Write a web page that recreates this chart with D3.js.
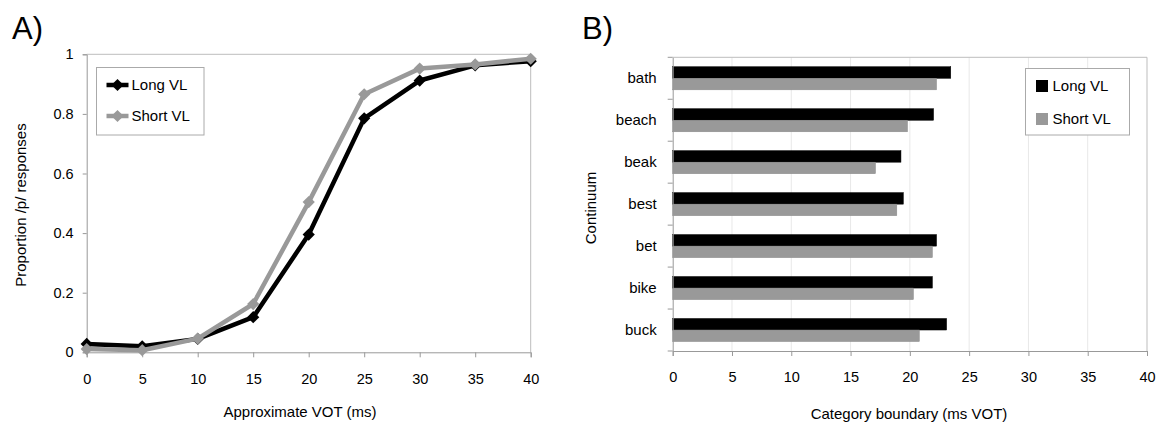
<!DOCTYPE html>
<html lang="en">
<head>
<meta charset="UTF-8">
<title>VOT category boundaries</title>
<script src="https://d3js.org/d3.v7.min.js"></script>
<style>
    body { margin: 0; background: #fff; }
    svg text { font-family: 'Liberation Sans', Arial, sans-serif; fill: #000; }
    .tick text { font-size: 14.5px; }
</style>
</head>
<body>
<svg width="1167" height="428"></svg>
<script>
    // panel A: identification curves
    const votSteps = [0, 5, 10, 15, 20, 25, 30, 35, 40];
    const longVL = [0.028, 0.02, 0.045, 0.118, 0.395, 0.785, 0.912, 0.963, 0.977];
    const shortVL = [0.011, 0.007, 0.046, 0.162, 0.504, 0.866, 0.952, 0.966, 0.985];
    const propTicks = [0, 0.2, 0.4, 0.6, 0.8, 1];

    // panel B: category boundaries
    const continua = ["bath", "beach", "beak", "best", "bet", "bike", "buck"];
    const boundaryLong = [23.45, 22.0, 19.25, 19.45, 22.25, 21.9, 23.1];
    const boundaryShort = [22.25, 19.8, 17.1, 18.9, 21.9, 20.3, 20.8];
    const boundaryTicks = [0, 5, 10, 15, 20, 25, 30, 35, 40];

    const seriesNames = ["Long VL", "Short VL"];
    const seriesColors = ["#000000", "#999999"];

    const svg = d3.select("svg");

    // ---------- A ----------
    const a = { left: 86.7, right: 530.7, top: 54.3, bottom: 352.3 };
    const xA = d3.scaleLinear().domain([0, 40]).range([a.left, a.right]);
    const yA = d3.scaleLinear().domain([0, 1]).range([a.bottom, a.top]);

    const gA = svg.append("g");

    gA.append("text").attr("x", 12).attr("y", 39).style("font-size", "31px").text("A)");

    // plot border (top and right)
    gA.append("path")
        .attr("d", `M${a.left},${a.top}H${a.right}V${a.bottom}`)
        .attr("fill", "none").attr("stroke", "#bdbdbd");

    const axA_x = gA.append("g")
        .attr("transform", `translate(0,${a.bottom})`)
        .call(d3.axisBottom(xA).tickValues(votSteps).tickSize(5).tickPadding(16));
    const axA_y = gA.append("g")
        .attr("transform", `translate(${a.left},0)`)
        .call(d3.axisLeft(yA).tickValues(propTicks).tickSize(4).tickPadding(9).tickFormat(d3.format("~g")));
    [axA_x, axA_y].forEach(ax => {
        ax.select(".domain").attr("stroke", "#999");
        ax.selectAll(".tick line").attr("stroke", "#999");
    });

    gA.append("text")
        .attr("x", 300).attr("y", 417)
        .attr("text-anchor", "middle").style("font-size", "15px")
        .text("Approximate VOT (ms)");
    gA.append("text")
        .attr("transform", "translate(26,205) rotate(-90)")
        .attr("text-anchor", "middle").style("font-size", "15px")
        .text("Proportion /p/ responses");

    const line = d3.line().x((d, i) => xA(votSteps[i])).y(d => yA(d));
    const diamond = d3.symbol().type(d3.symbolDiamond2).size(95);

    [longVL, shortVL].forEach((vals, s) => {
        const g = gA.append("g");
        g.append("path")
            .datum(vals)
            .attr("d", line)
            .attr("fill", "none")
            .attr("stroke", seriesColors[s])
            .attr("stroke-width", 4.5)
            .attr("stroke-linejoin", "round");
        g.selectAll("path.mk")
            .data(vals)
            .join("path")
            .attr("class", "mk")
            .attr("d", diamond)
            .attr("transform", (d, i) => `translate(${xA(votSteps[i])},${yA(d)})`)
            .attr("fill", seriesColors[s]);
    });

    // legend A
    const legA = gA.append("g");
    legA.append("rect")
        .attr("x", 96.5).attr("y", 67.5).attr("width", 107.5).attr("height", 67.5)
        .attr("fill", "#fff").attr("stroke", "#aaa");
    seriesNames.forEach((name, i) => {
        const cy = 85 + i * 31;
        legA.append("line")
            .attr("x1", 106.5).attr("x2", 128.5).attr("y1", cy).attr("y2", cy)
            .attr("stroke", seriesColors[i]).attr("stroke-width", 4.5);
        legA.append("path")
            .attr("d", diamond)
            .attr("transform", `translate(117.5,${cy})`)
            .attr("fill", seriesColors[i]);
        legA.append("text")
            .attr("x", 131.5).attr("y", cy).attr("dy", "0.36em")
            .style("font-size", "15px").text(name);
    });

    // ---------- B ----------
    const b = { left: 672.7, right: 1147, top: 57.3, bottom: 351 };
    const xB = d3.scaleLinear().domain([0, 40]).range([b.left, b.right]);
    const yB = d3.scaleBand().domain(continua).range([b.top, b.bottom])
        .paddingInner(0.45).paddingOuter(0.225);
    const ySub = d3.scaleBand().domain(seriesNames).range([0, yB.bandwidth()]);

    const gB = svg.append("g");

    gB.append("text").attr("x", 582).attr("y", 39).style("font-size", "31px").text("B)");

    // vertical gridlines
    gB.append("g")
        .selectAll("line")
        .data(boundaryTicks.filter(d => d > 0 && d < 40))
        .join("line")
        .attr("x1", d => xB(d)).attr("x2", d => xB(d))
        .attr("y1", b.top).attr("y2", b.bottom)
        .attr("stroke", "#e8e8e8");

    gB.append("path")
        .attr("d", `M${b.left},${b.top}H${b.right}V${b.bottom}`)
        .attr("fill", "none").attr("stroke", "#bdbdbd");

    const rows = continua.map((c, i) => ({ c, vals: [boundaryLong[i], boundaryShort[i]] }));
    gB.append("g")
        .selectAll("g")
        .data(rows)
        .join("g")
        .attr("transform", d => `translate(0,${yB(d.c)})`)
        .selectAll("rect")
        .data(d => d.vals.map((v, s) => ({ v, s })))
        .join("rect")
        .attr("x", xB(0))
        .attr("y", d => ySub(seriesNames[d.s]))
        .attr("width", d => xB(d.v) - xB(0))
        .attr("height", ySub.bandwidth())
        .attr("fill", d => seriesColors[d.s])
        .attr("stroke", d => d.s === 0 ? "#000" : "#8a8a8a")
        .attr("stroke-width", 0.5);

    const axB_x = gB.append("g")
        .attr("transform", `translate(0,${b.bottom})`)
        .call(d3.axisBottom(xB).tickValues(boundaryTicks).tickSize(5).tickPadding(16));
    const axB_y = gB.append("g")
        .attr("transform", `translate(${b.left},0)`)
        .call(d3.axisLeft(yB).tickSize(0).tickPadding(16));
    axB_y.selectAll(".tick text").style("font-size", "15px");
    [axB_x, axB_y].forEach(ax => {
        ax.select(".domain").attr("stroke", "#999");
        ax.selectAll(".tick line").attr("stroke", "#999");
    });
    // category separator ticks on the y axis
    gB.append("g")
        .selectAll("line")
        .data(d3.range(continua.length + 1))
        .join("line")
        .attr("x1", b.left - 5).attr("x2", b.left)
        .attr("y1", i => b.top + i * yB.step())
        .attr("y2", i => b.top + i * yB.step())
        .attr("stroke", "#999");

    gB.append("text")
        .attr("x", 909).attr("y", 419)
        .attr("text-anchor", "middle").style("font-size", "15px")
        .text("Category boundary (ms VOT)");
    gB.append("text")
        .attr("transform", "translate(596,208) rotate(-90)")
        .attr("text-anchor", "middle").style("font-size", "15px")
        .text("Continuum");

    // legend B
    const legB = gB.append("g");
    legB.append("rect")
        .attr("x", 1025.5).attr("y", 68.5).attr("width", 104).attr("height", 66.5)
        .attr("fill", "#fff").attr("stroke", "#aaa");
    seriesNames.forEach((name, i) => {
        const cy = 86 + i * 33;
        legB.append("rect")
            .attr("x", 1036).attr("y", cy - 6).attr("width", 12).attr("height", 12)
            .attr("fill", seriesColors[i]);
        legB.append("text")
            .attr("x", 1052.5).attr("y", cy).attr("dy", "0.36em")
            .style("font-size", "15px").text(name);
    });
</script>
</body>
</html>
